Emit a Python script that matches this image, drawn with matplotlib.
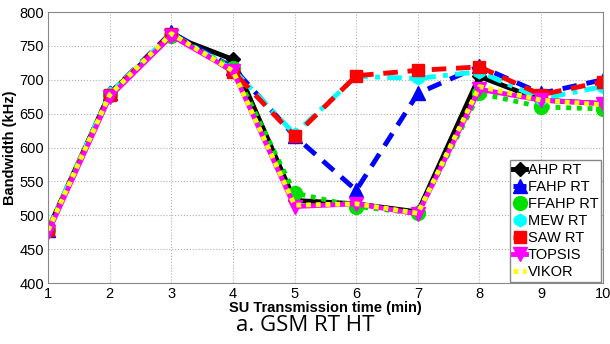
import matplotlib.pyplot as plt
import numpy as np

plt.rcParams['font.family'] = ['Liberation Sans', 'DejaVu Sans']

times = [1, 2, 3, 4, 5, 6, 7, 8, 9, 10]
ahp = [480, 680, 765, 730, 522, 517, 505, 705, 670, 665]
fahp = [478, 680, 770, 718, 617, 537, 680, 720, 680, 700]
ffahp = [478, 678, 765, 718, 533, 513, 503, 680, 660, 657]
mew = [480, 680, 768, 715, 620, 705, 702, 712, 672, 690]
saw = [478, 678, 768, 712, 617, 706, 714, 719, 678, 697]
topsis = [475, 675, 765, 713, 513, 517, 502, 686, 670, 665]
vikor = [478, 678, 768, 713, 515, 517, 503, 690, 670, 663]

fig = plt.figure(figsize=(6.1, 3.44), dpi=100)
ax = fig.add_axes([0.079, 0.177, 0.909, 0.788])

lw = 3.5
ax.plot(times, ahp, color='black', ls='-', lw=lw, marker='D', ms=7, label='AHP RT')
ax.plot(times, fahp, color='blue', ls=(0, (3, 2)), lw=lw, marker='^', ms=10, label='FAHP RT')
ax.plot(times, ffahp, color='#00e000', ls=(0, (1, 1.2)), lw=lw, marker='o', ms=10, label='FFAHP RT')
ax.plot(times, mew, color='cyan', ls=(0, (3, 1.5, 1, 1.5)), lw=lw, marker='h', ms=9, label='MEW RT')
ax.plot(times, saw, color='red', ls=(0, (3, 2)), lw=lw, marker='s', ms=9, label='SAW RT')
ax.plot(times, topsis, color='magenta', ls='-', lw=lw, marker='v', ms=10, label='TOPSIS')
ax.plot(times, vikor, color='yellow', ls=(0, (1, 1)), lw=lw, label='VIKOR')

ax.set_xlim(1, 10)
ax.set_ylim(400, 800)
ax.set_xticks(times)
ax.set_yticks(np.arange(400, 801, 50))
ax.grid(True, color='#b0b0b0', ls=':', lw=0.8)
for s in ax.spines.values():
    s.set_color('#888888')
ax.tick_params(labelsize=10.5, length=0, pad=3)
ax.set_xlabel('SU Transmission time (min)', fontsize=10.5, fontweight='bold', labelpad=0)
ax.set_ylabel('Bandwidth (kHz)', fontsize=10.5, fontweight='bold', labelpad=2)

leg = ax.legend(loc='lower right', fontsize=10.5, handlelength=0.9, handletextpad=0.1,
                borderaxespad=0.1, borderpad=0.2, labelspacing=0.2, fancybox=False,
                framealpha=1)
leg.get_frame().set_edgecolor('#888888')

fig.text(0.5, 0.055, 'a. GSM RT HT', ha='center', va='center', fontsize=16,
         family=['Open Sans', 'DejaVu Sans'])

fig.savefig('out.png', dpi=100)
